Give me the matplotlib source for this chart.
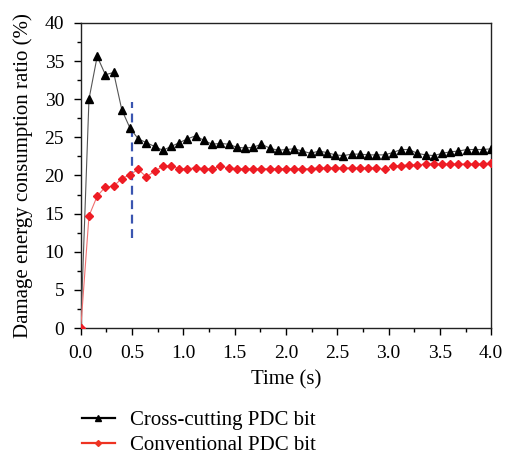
import numpy as np
import matplotlib
matplotlib.use("Agg")
import matplotlib.pyplot as plt
from matplotlib.ticker import MultipleLocator, FormatStrFormatter

plt.rcParams['font.family'] = ['Liberation Serif', 'DejaVu Serif']
plt.rcParams['font.size'] = 14

# sampling step of the simulation output
time = np.round(np.arange(51) * 0.08, 2)

cross_cutting = [
    0.0, 30.0, 35.6, 33.2, 33.5, 28.6, 26.2, 24.8, 24.3, 23.8,
    23.3, 23.8, 24.3, 24.8, 25.2, 24.6, 24.1, 24.2, 24.1, 23.7,
    23.6, 23.7, 24.1, 23.6, 23.3, 23.4, 23.5, 23.2, 22.9, 23.2,
    23.0, 22.7, 22.6, 22.8, 22.8, 22.7, 22.7, 22.7, 23.0, 23.4,
    23.4, 22.9, 22.7, 22.6, 22.9, 23.1, 23.2, 23.4, 23.4, 23.4,
    23.5,
]
conventional = [
    0.0, 14.7, 17.3, 18.5, 18.6, 19.6, 20.1, 20.8, 19.8, 20.6,
    21.2, 21.3, 20.9, 20.9, 21.0, 20.9, 20.9, 21.2, 21.0, 20.9,
    20.9, 20.9, 20.9, 20.9, 20.9, 20.9, 20.9, 20.9, 20.9, 21.0,
    21.0, 21.0, 21.0, 21.0, 21.0, 21.0, 21.0, 20.8, 21.3, 21.3,
    21.4, 21.4, 21.5, 21.5, 21.5, 21.5, 21.5, 21.5, 21.5, 21.5,
    21.6,
]
divider_t = 0.5
divider_range = (11.8, 29.6)

fig = plt.figure(figsize=(5.08, 4.57), dpi=100)
ax = fig.add_axes([0.159, 0.282, 0.808, 0.668])

ax.plot(time, cross_cutting, color='#555555', lw=0.8, marker='^',
        ms=5.8, mfc='black', mec='black', zorder=3)
ax.plot(time, conventional, color='#f07070', lw=0.8, marker='D',
        ms=4.4, mfc='#ee1c24', mec='#ee1c24', zorder=3)
ax.vlines(divider_t, *divider_range, colors='#3a55b0', linestyles=(0, (4, 2.5)),
          lw=1.6, zorder=2)

ax.set_xlim(0, 4.0)
ax.set_ylim(0, 40)
ax.xaxis.set_major_locator(MultipleLocator(0.5))
ax.xaxis.set_minor_locator(MultipleLocator(0.25))
ax.yaxis.set_major_locator(MultipleLocator(5))
ax.yaxis.set_minor_locator(MultipleLocator(2.5))
ax.xaxis.set_major_formatter(FormatStrFormatter('%.1f'))
ax.tick_params(which='major', direction='out', length=5, width=1, pad=7)
ax.tick_params(which='minor', direction='out', length=3, width=1)
for s in ax.spines.values():
    s.set_linewidth(1.0)
    s.set_color('#222222')

ax.set_xlabel('Time (s)', fontsize=15, labelpad=6)
ax.set_ylabel('Damage energy consumption ratio (%)', fontsize=15, labelpad=8)

h1, = ax.plot([], [], color='black', lw=1.6, marker='^', ms=4, mfc='black', mec='black')
h2, = ax.plot([], [], color='#ee3322', lw=1.6, marker='D', ms=3, mfc='#ee3322', mec='#ee3322')
fig.legend([h1, h2], ['Cross-cutting PDC bit', 'Conventional PDC bit'],
           loc='upper left', bbox_to_anchor=(0.161, 0.101), frameon=False,
           fontsize=15, handlelength=1.6, handletextpad=0.72, labelspacing=0.26,
           borderpad=0, borderaxespad=0)

fig.savefig('out.png', dpi=100)
